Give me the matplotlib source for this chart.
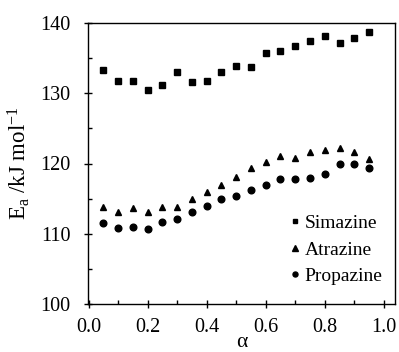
import matplotlib
matplotlib.use("Agg")
import matplotlib.pyplot as plt
from matplotlib.ticker import MultipleLocator

alpha = [0.05, 0.10, 0.15, 0.20, 0.25, 0.30, 0.35, 0.40, 0.45, 0.50,
         0.55, 0.60, 0.65, 0.70, 0.75, 0.80, 0.85, 0.90, 0.95]
simazine = [133.3, 131.8, 131.8, 130.5, 131.2, 133.0, 131.6, 131.8, 133.0, 133.9,
            133.7, 135.8, 136.0, 136.7, 137.4, 138.1, 137.1, 137.9, 138.7]
atrazine = [113.8, 113.1, 113.6, 113.1, 113.8, 113.8, 114.9, 116.0, 117.0, 118.1,
            119.3, 120.2, 121.0, 120.8, 121.7, 121.9, 122.2, 121.7, 120.6]
propazine = [111.5, 110.8, 111.0, 110.7, 111.7, 112.1, 113.1, 114.0, 114.9, 115.4,
             116.2, 117.0, 117.8, 117.8, 117.9, 118.5, 119.9, 119.9, 119.3]

plt.rcParams['font.family'] = ['Liberation Serif', 'DejaVu Serif']
plt.rcParams['mathtext.fontset'] = 'custom'
plt.rcParams['mathtext.rm'] = 'Liberation Serif'
plt.rcParams['mathtext.it'] = 'Liberation Serif:italic'

fig = plt.figure(figsize=(3.99, 3.52), dpi=100)
L, R, T, B = 88, 395, 23, 304
ax = fig.add_axes([L/399, (352-B)/352, (R-L)/399, (B-T)/352])

ax.plot(alpha, simazine, 's', color='black', ms=4.6, label='Simazine')
ax.plot(alpha, atrazine, '^', color='black', ms=5, label='Atrazine')
ax.plot(alpha, propazine, 'o', color='black', ms=4.8, label='Propazine')

ax.set_xlim(-0.002, 1.038)
ax.set_ylim(100, 140)
ax.xaxis.set_major_locator(MultipleLocator(0.2))
ax.xaxis.set_minor_locator(MultipleLocator(0.1))
ax.yaxis.set_major_locator(MultipleLocator(10))
ax.yaxis.set_minor_locator(MultipleLocator(5))
ax.xaxis.set_major_formatter(plt.FuncFormatter(lambda v, p: f"{v:.1f}"))
ax.tick_params(which='major', direction='inout', length=6, width=1, labelsize=14.5)
ax.tick_params(axis='x', which='major', pad=7)
ax.tick_params(axis='y', which='major', pad=9.5)
ax.tick_params(which='minor', direction='in', length=3, width=1)
ax.tick_params(top=False, right=False)
for s in ax.spines.values():
    s.set_linewidth(1)

ax.set_xlabel('α', fontsize=15.5, labelpad=-3)
ax.set_ylabel('E$_{\\mathrm{a}}$ /kJ mol$^{-1}$', fontsize=16.5, labelpad=6)

ax.legend(loc='lower right', frameon=False, fontsize=14, handletextpad=0.2,
          handlelength=0.6, markerscale=0.75, labelspacing=0.45,
          bbox_to_anchor=(0.985, 0.04), borderaxespad=0.0)

fig.savefig('out.png', dpi=100)
